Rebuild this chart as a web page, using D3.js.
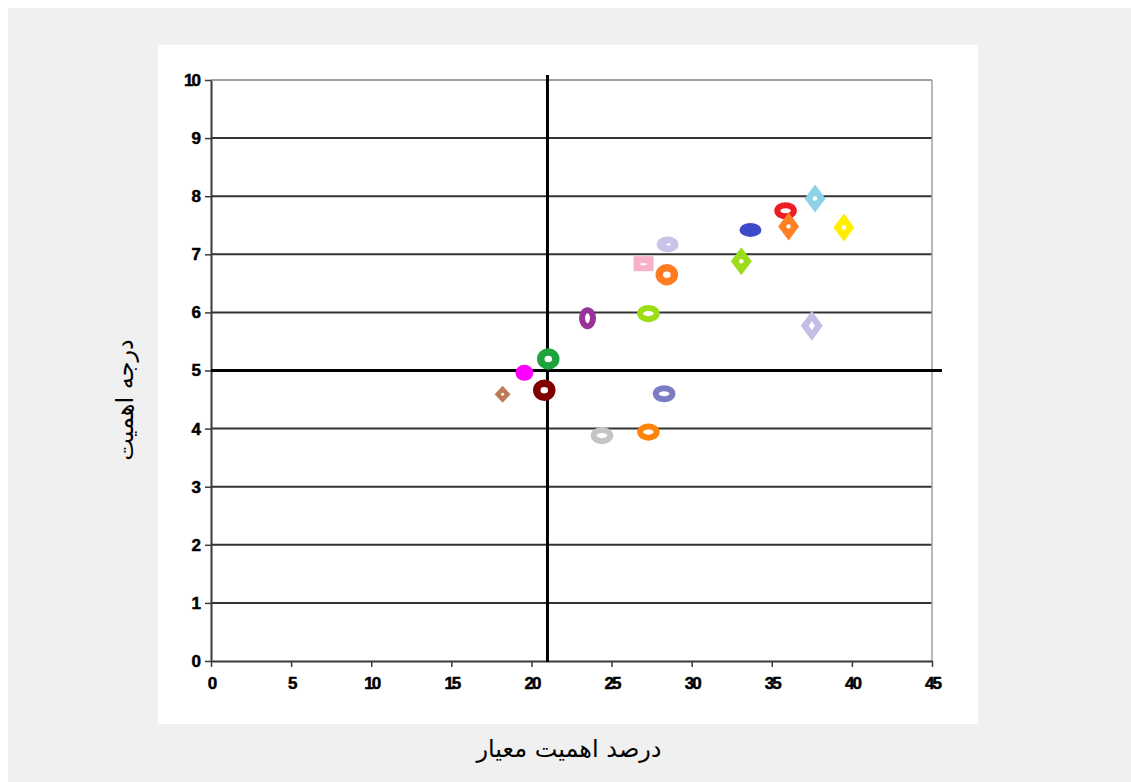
<!DOCTYPE html>
<html>
<head>
<meta charset="utf-8">
<script src="https://cdn.jsdelivr.net/npm/d3@7"></script>
<style>
  html, body { margin: 0; padding: 0; background: #ffffff; }
  svg { display: block; }
</style>
</head>
<body>
<svg id="chart" width="1131" height="782"></svg>
<script>
// Criteria: share of importance (%) vs. importance degree
const xValues = [18.2, 19.56, 21.05, 20.8, 28.28, 24.4, 27.3, 23.5, 27.3, 27.0, 28.45, 28.5, 33.67, 35.86, 36.05, 37.7, 39.5, 33.1, 37.5];
const yValues = [4.59, 4.96, 5.2, 4.66, 4.6, 3.88, 3.94, 5.9, 5.98, 6.83, 6.65, 7.17, 7.42, 7.75, 7.48, 7.96, 7.46, 6.88, 5.77];
const markerKinds = ["diamondSmall", "blob", "ringRound", "ringRound", "ringWide", "ringWide", "ringWide", "ringTall", "ringWide", "square", "ringRound", "blobWide", "blobFlat", "ringWide", "diamond", "diamond", "diamond", "diamond", "diamondHollow"];
const markerColors = ["#bd7b55", "#ff00ff", "#1fa33c", "#800000", "#7b7dc2", "#c4c4c4", "#ff8409", "#993399", "#9bdc12", "#f8b2c8", "#ff7c21", "#c9c3ea", "#3d49c6", "#ee1d25", "#ff8124", "#8dd2e6", "#ffee00", "#9bdc1c", "#c5bde6"];

const xTicks = [0, 5, 10, 15, 20, 25, 30, 35, 40, 45];
const yTicks = [0, 1, 2, 3, 4, 5, 6, 7, 8, 9, 10];
const xRefValue = 21;
const yRefValue = 5;
const xTitle = "درصد اهمیت معیار";
const yTitle = "درجه اهمیت";

const svg = d3.select("#chart");

// Page panels
svg.append("rect").attr("x", 8).attr("y", 8).attr("width", 1123).attr("height", 774).attr("fill", "#f0f0f0");
svg.append("rect").attr("x", 158).attr("y", 45).attr("width", 820).attr("height", 679).attr("fill", "#ffffff");

const plot = { left: 211, right: 932, top: 80, bottom: 661 };
const x = d3.scaleLinear().domain([0, 45]).range([plot.left, plot.right]);
const y = d3.scaleLinear().domain([0, 10]).range([plot.bottom, plot.top]);

// Horizontal gridlines
svg.append("g").selectAll("line")
  .data(yTicks.filter(t => t > 0))
  .join("line")
  .attr("x1", plot.left).attr("x2", plot.right)
  .attr("y1", d => y(d)).attr("y2", d => y(d))
  .attr("stroke", d => d === 10 ? "#a0a0a0" : "#333333")
  .attr("stroke-width", 2);

// Right border of the plot area
svg.append("line")
  .attr("x1", plot.right).attr("x2", plot.right)
  .attr("y1", plot.top).attr("y2", plot.bottom)
  .attr("stroke", "#a0a0a0").attr("stroke-width", 1.5);

const tickFont = "'Liberation Sans', Arial, sans-serif";

// Y axis
const yAxis = svg.append("g")
  .attr("transform", `translate(${plot.left},0)`)
  .call(d3.axisLeft(y).tickValues(yTicks).tickSize(6).tickSizeOuter(0).tickPadding(6));
// X axis
const xAxis = svg.append("g")
  .attr("transform", `translate(0,${plot.bottom})`)
  .call(d3.axisBottom(x).tickValues(xTicks).tickSize(6).tickSizeOuter(0).tickPadding(10));

[yAxis, xAxis].forEach(g => {
  g.attr("font-size", null).attr("font-family", null);
  g.select(".domain").attr("stroke", "#3a3a3a").attr("stroke-width", 2);
  g.selectAll(".tick line").attr("stroke", "#3a3a3a").attr("stroke-width", 1.5);
  g.selectAll(".tick text")
    .attr("fill", "#000")
    .attr("font-family", tickFont)
    .attr("font-weight", "bold")
    .attr("font-size", 17)
    .attr("letter-spacing", "-2px")
    .attr("stroke", "#000")
    .attr("stroke-width", 0.5);
});

// Reference lines at the dividing values
svg.append("line")
  .attr("x1", x(xRefValue)).attr("x2", x(xRefValue))
  .attr("y1", plot.top - 5).attr("y2", plot.bottom + 1)
  .attr("stroke", "#000").attr("stroke-width", 3);
svg.append("line")
  .attr("x1", plot.left).attr("x2", plot.right + 10)
  .attr("y1", y(yRefValue)).attr("y2", y(yRefValue))
  .attr("stroke", "#000").attr("stroke-width", 3);

// Markers
const points = xValues.map((v, i) => ({ x: v, y: yValues[i], kind: markerKinds[i], color: markerColors[i] }));

function diamondPath(w, h) {
  return `M0,${-h / 2}L${w / 2},0L0,${h / 2}L${-w / 2},0Z`;
}

const marks = svg.append("g").selectAll("g")
  .data(points)
  .join("g")
  .attr("transform", d => `translate(${x(d.x)},${y(d.y)})`);

marks.each(function (d) {
  const g = d3.select(this);
  switch (d.kind) {
    case "ringWide":
      g.append("ellipse").attr("rx", 8.3).attr("ry", 5.6)
        .attr("fill", "#fff").attr("stroke", d.color).attr("stroke-width", 6);
      break;
    case "ringRound":
      g.append("ellipse").attr("rx", 7.5).attr("ry", 7)
        .attr("fill", "#fff").attr("stroke", d.color).attr("stroke-width", 7.5);
      break;
    case "ringTall":
      g.append("ellipse").attr("rx", 5.5).attr("ry", 8)
        .attr("fill", "#fff").attr("stroke", d.color).attr("stroke-width", 6);
      break;
    case "blob":
      g.append("ellipse").attr("rx", 9).attr("ry", 8).attr("fill", d.color);
      break;
    case "blobWide":
      g.append("ellipse").attr("rx", 11).attr("ry", 8).attr("fill", d.color);
      g.append("rect").attr("x", -1).attr("y", -1).attr("width", 4).attr("height", 2).attr("fill", "#fff");
      break;
    case "blobFlat":
      g.append("ellipse").attr("rx", 11).attr("ry", 7).attr("fill", d.color);
      break;
    case "square":
      g.append("rect").attr("x", -10).attr("y", -8).attr("width", 20).attr("height", 15).attr("fill", d.color);
      g.append("rect").attr("x", -3).attr("y", -1).attr("width", 6).attr("height", 2).attr("fill", "#fff");
      break;
    case "diamond":
      g.append("path").attr("d", diamondPath(21, 28)).attr("fill", d.color);
      g.append("circle").attr("r", 2.2).attr("fill", "#fff");
      break;
    case "diamondSmall":
      g.append("path").attr("d", diamondPath(16, 17)).attr("fill", d.color);
      g.append("circle").attr("r", 1.5).attr("fill", "#fff");
      break;
    case "diamondHollow":
      g.append("path").attr("d", diamondPath(22, 30)).attr("fill", d.color);
      g.append("path").attr("d", diamondPath(6, 9)).attr("fill", "#fff");
      break;
  }
});

// Axis titles
const titleFont = "'DejaVu Sans', sans-serif";
svg.append("text")
  .attr("x", 569).attr("y", 757)
  .attr("text-anchor", "middle")
  .attr("direction", "rtl")
  .style("font-family", titleFont)
  .style("font-size", "24px")
  .attr("fill", "#000")
  .text(xTitle);

svg.append("text")
  .attr("transform", "translate(133,400) rotate(-90)")
  .attr("text-anchor", "middle")
  .attr("direction", "rtl")
  .style("font-family", titleFont)
  .style("font-size", "24px")
  .attr("fill", "#000")
  .text(yTitle);
</script>
</body>
</html>
